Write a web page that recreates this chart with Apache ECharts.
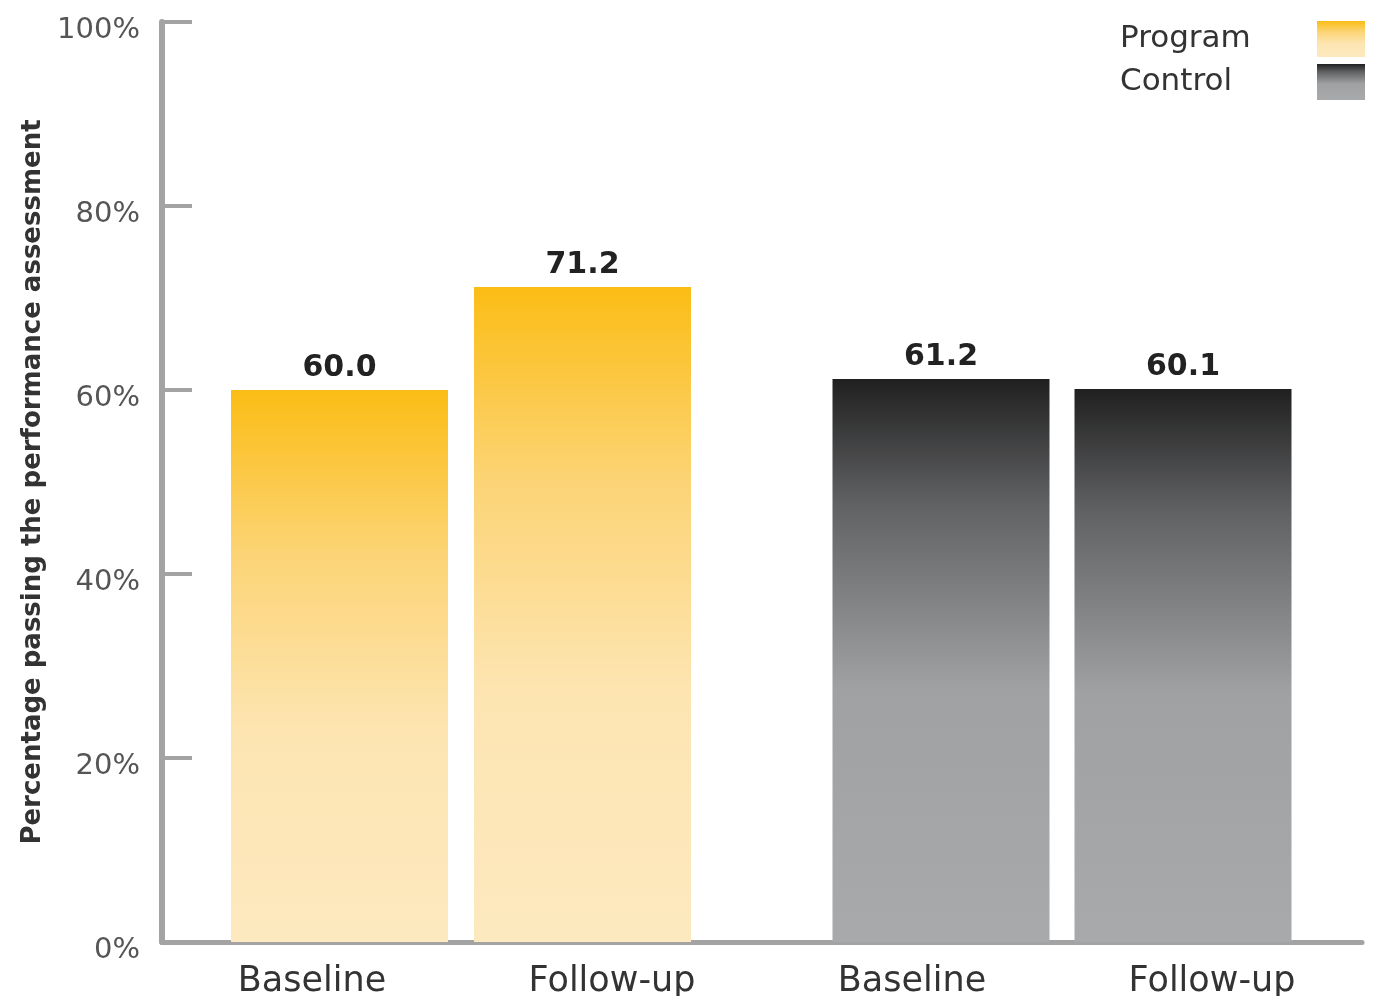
<!DOCTYPE html>
<html>
<head>
<meta charset="utf-8">
<script src="https://cdn.jsdelivr.net/npm/echarts@6/dist/echarts.min.js"></script>
<style>
  html, body { margin: 0; padding: 0; background: #fff; }
  #main { width: 1390px; height: 996px; }
</style>
</head>
<body>
<div id="main"></div>
<script>
// 数据
var axisLabels = ['Baseline', 'Follow-up', 'Baseline', 'Follow-up'];
var groupCats = ['Baseline', 'Follow-up'];
var programValues = [60.0, 71.2];
var controlValues = [61.2, 60.1];
var yTicks = [0, 20, 40, 60, 80, 100];

var FONT = 'DejaVu Sans';
var AXIS_GRAY = '#a3a3a3';

var programColor = new echarts.graphic.LinearGradient(0, 0, 0, 1, [
    { offset: 0, color: '#fbbd15' },
    { offset: 0.3, color: '#fcd476' },
    { offset: 0.62, color: '#fde5b2' },
    { offset: 1, color: '#fde9bf' }
]);
var controlColor = new echarts.graphic.LinearGradient(0, 0, 0, 1, [
    { offset: 0, color: '#202020' },
    { offset: 0.22, color: '#606163' },
    { offset: 0.55, color: '#a0a1a3' },
    { offset: 1, color: '#a8a9ab' }
]);

var myChart = echarts.init(document.getElementById('main'));

var hiddenY = function (idx) {
    return {
        type: 'value', gridIndex: idx, min: yTicks[0], max: yTicks[yTicks.length - 1],
        show: false, splitLine: { show: false }
    };
};

var barLabel = {
    show: true,
    position: 'top',
    distance: 7,
    fontFamily: FONT,
    fontWeight: 'bold',
    fontSize: 30,
    color: '#222',
    formatter: function (p) { return p.value.toFixed(1); }
};

myChart.setOption({
    animation: false,
    legend: {
        data: ['Program', 'Control'],
        orient: 'vertical',
        align: 'right',
        right: 20,
        top: 16,
        itemWidth: 48,
        itemHeight: 36,
        itemGap: 7,
        icon: 'rect',
        formatter: function (name) { return '{a|' + name + '}'; },
        textStyle: {
            rich: {
                a: { width: 192, align: 'left', fontFamily: FONT, fontSize: 31, color: '#333' }
            }
        }
    },
    grid: [
        { left: 162, right: 28, top: 22, bottom: 54, outerBoundsMode: 'none' },
        { left: 218, width: 486, top: 22, bottom: 54, outerBoundsMode: 'none' },
        { left: 820, width: 484, top: 22, bottom: 54, outerBoundsMode: 'none' }
    ],
    xAxis: [
        {
            type: 'category', gridIndex: 0, data: axisLabels,
            axisLine: { lineStyle: { color: AXIS_GRAY, width: 5 } },
            axisTick: { show: false },
            axisLabel: { fontFamily: FONT, fontSize: 35, color: '#333', margin: 22 }
        },
        { type: 'category', gridIndex: 1, data: groupCats, show: false },
        { type: 'category', gridIndex: 2, data: groupCats, show: false }
    ],
    yAxis: [
        {
            type: 'value', gridIndex: 0, min: 0, max: 100, interval: 20,
            name: 'Percentage passing the performance assessment',
            nameLocation: 'middle',
            nameRotate: 90,
            nameGap: 114,
            nameTextStyle: { fontFamily: FONT, fontSize: 26, fontWeight: 'bold', color: '#333' },
            axisLine: { show: true, lineStyle: { color: AXIS_GRAY, width: 6 } },
            axisTick: { show: true, inside: true, length: 30, lineStyle: { color: AXIS_GRAY, width: 4 } },
            splitLine: { show: false },
            axisLabel: {
                margin: 22,
                formatter: '{v|{value}%}',
                rich: {
                    v: { fontFamily: FONT, fontSize: 29, color: '#555', padding: [16, 0, 0, 0] }
                }
            }
        },
        hiddenY(1),
        hiddenY(2)
    ],
    series: [
        {
            name: 'Program', type: 'bar', xAxisIndex: 1, yAxisIndex: 1,
            data: programValues, barWidth: 217,
            itemStyle: { color: programColor },
            label: barLabel
        },
        {
            name: 'Control', type: 'bar', xAxisIndex: 2, yAxisIndex: 2,
            data: controlValues, barWidth: 217,
            itemStyle: { color: controlColor },
            label: barLabel
        }
    ]
});
</script>
</body>
</html>
